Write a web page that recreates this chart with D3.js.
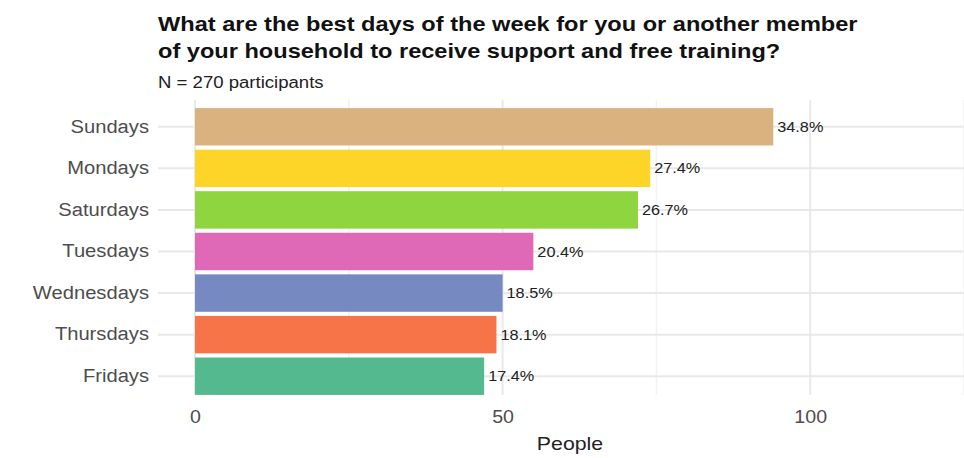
<!DOCTYPE html>
<html>
<head>
<meta charset="utf-8">
<script src="https://cdn.jsdelivr.net/npm/d3@7"></script>
<style>
  html, body { margin: 0; padding: 0; background: #fff; }
  svg { display: block; font-family: "Liberation Sans", Arial, sans-serif; }
</style>
</head>
<body>
<svg id="chart" width="964" height="458"></svg>
<script>
const categories = ["Sundays", "Mondays", "Saturdays", "Tuesdays", "Wednesdays", "Thursdays", "Fridays"];
const people = [94, 74, 72, 55, 50, 49, 47];
const percentLabels = ["34.8%", "27.4%", "26.7%", "20.4%", "18.5%", "18.1%", "17.4%"];
const barColors = ["#DAB27F", "#FDD428", "#8ED540", "#DF68B7", "#7689C1", "#F77448", "#55B990"];
const majorTicks = [0, 50, 100];
const minorTicks = [25, 75, 125];
const titleLines = ["What are the best days of the week for you or another member",
                    "of your household to receive support and free training?"];
const subtitle = "N = 270 participants";
const xTitle = "People";

const svg = d3.select("#chart");
const panel = { left: 158, right: 964, top: 100, bottom: 397 };

const x = d3.scaleLinear().domain([0, 125]).range([195, 964]);
const y = d3.scaleBand().domain(categories).range([106, 397]).paddingInner(0.1).paddingOuter(0.05);

const HS = 1.12; // horizontal stretch of text in the reference
function stretch(sel, k) {
  sel.each(function () {
    const w = this.getComputedTextLength();
    d3.select(this).attr("textLength", w * k).attr("lengthAdjust", "spacingAndGlyphs");
  });
}

// gridlines
const g = svg.append("g");
g.selectAll("line.minor").data(minorTicks).join("line")
  .attr("x1", d => x(d)).attr("x2", d => x(d))
  .attr("y1", panel.top).attr("y2", panel.bottom - 2)
  .attr("stroke", "#f2f2f2").attr("stroke-width", 1.5);
g.selectAll("line.major").data(majorTicks).join("line")
  .attr("x1", d => x(d)).attr("x2", d => x(d))
  .attr("y1", panel.top).attr("y2", panel.bottom - 2)
  .attr("stroke", "#e9e9e9").attr("stroke-width", 2);
g.selectAll("line.hgrid").data(categories).join("line")
  .attr("x1", panel.left).attr("x2", panel.right)
  .attr("y1", d => y(d) + y.bandwidth() / 2).attr("y2", d => y(d) + y.bandwidth() / 2)
  .attr("stroke", "#e8e8e8").attr("stroke-width", 2);

// bars
svg.append("g").selectAll("rect").data(categories).join("rect")
  .attr("x", x(0))
  .attr("y", d => y(d))
  .attr("width", (d, i) => x(people[i]) - x(0))
  .attr("height", y.bandwidth())
  .attr("fill", (d, i) => barColors[i]);

// value labels
svg.append("g").selectAll("text").data(categories).join("text")
  .attr("x", (d, i) => x(people[i]) + 4)
  .attr("y", d => y(d) + y.bandwidth() / 2)
  .attr("dy", "0.35em")
  .attr("font-size", 14.5)
  .attr("fill", "#222")
  .text((d, i) => percentLabels[i])
  .call(stretch, HS);

// y axis
const yAxis = svg.append("g").attr("transform", `translate(149,0)`)
  .call(d3.axisLeft(y).tickSize(0).tickPadding(0));
yAxis.select(".domain").remove();
yAxis.selectAll("text").attr("font-size", 18).attr("fill", "#4d4d4d")
  .attr("font-family", "Liberation Sans, Arial, sans-serif").call(stretch, HS);

// x axis
const xAxis = svg.append("g").attr("transform", `translate(0,${panel.bottom})`)
  .call(d3.axisBottom(x).tickValues(majorTicks).tickSize(0).tickPadding(14));
xAxis.select(".domain").remove();
xAxis.selectAll("text").attr("font-size", 17.5).attr("fill", "#4d4d4d")
  .attr("font-family", "Liberation Sans, Arial, sans-serif").call(stretch, HS);

svg.append("text").attr("x", 570).attr("y", 450)
  .attr("text-anchor", "middle").attr("font-size", 19).attr("fill", "#222")
  .text(xTitle).call(stretch, HS);

// titles
svg.append("g").selectAll("text").data(titleLines).join("text")
  .attr("x", 158).attr("y", (d, i) => 31 + i * 27)
  .attr("font-size", 20.5).attr("font-weight", "bold").attr("fill", "#111")
  .text(d => d).call(stretch, 1.15);

svg.append("text").attr("x", 158).attr("y", 88)
  .attr("font-size", 16).attr("fill", "#222")
  .text(subtitle).call(stretch, 1.16);
</script>
</body>
</html>
